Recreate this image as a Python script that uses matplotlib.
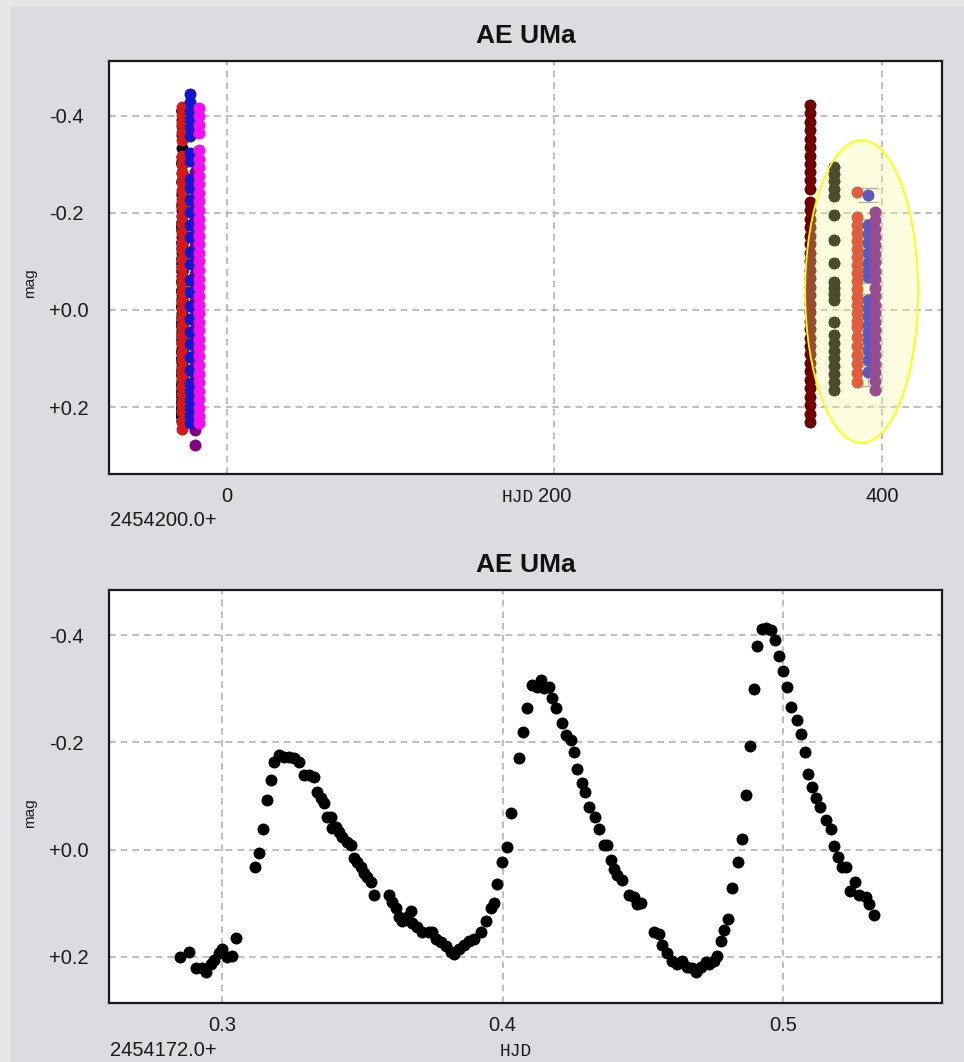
import numpy as np
import matplotlib
matplotlib.use("Agg")
import matplotlib.pyplot as plt
from matplotlib.patches import Ellipse, Rectangle

plt.rcParams['font.family'] = ['Liberation Sans', 'DejaVu Sans']

# --- light curve of one night, HJD - 2454172.0 and mag (relative) ---
night_hjd = [0.2850, 0.2882, 0.2907, 0.2929, 0.2943, 0.2961, 0.2971, 0.2989, 0.3000, 0.3018,
             0.3036, 0.3050, 0.3118, 0.3132, 0.3146, 0.3160, 0.3175, 0.3185, 0.3203, 0.3221,
             0.3239, 0.3257, 0.3275, 0.3292, 0.3310, 0.3328, 0.3339, 0.3353, 0.3364, 0.3374,
             0.3389, 0.3392, 0.3406, 0.3417, 0.3428, 0.3446, 0.3460, 0.3471, 0.3481, 0.3496,
             0.3506, 0.3517, 0.3531, 0.3542, 0.3595, 0.3606, 0.3620, 0.3631, 0.3642, 0.3660,
             0.3674, 0.3677, 0.3695, 0.3713, 0.3738, 0.3749, 0.3763, 0.3781, 0.3799, 0.3816,
             0.3827, 0.3845, 0.3863, 0.3881, 0.3898, 0.3922, 0.3941, 0.3959, 0.3970, 0.3980,
             0.3998, 0.4016, 0.4030, 0.4059, 0.4073, 0.4087, 0.4105, 0.4123, 0.4137, 0.4148,
             0.4166, 0.4176, 0.4191, 0.4212, 0.4226, 0.4244, 0.4255, 0.4266, 0.4283, 0.4294,
             0.4308, 0.4330, 0.4344, 0.4362, 0.4373, 0.4387, 0.4397, 0.4408, 0.4426, 0.4451,
             0.4469, 0.4479, 0.4494, 0.4540, 0.4558, 0.4569, 0.4586, 0.4604, 0.4622, 0.4640,
             0.4658, 0.4676, 0.4690, 0.4708, 0.4725, 0.4736, 0.4754, 0.4765, 0.4779, 0.4790,
             0.4804, 0.4818, 0.4840, 0.4854, 0.4868, 0.4882, 0.4897, 0.4907, 0.4925, 0.4939,
             0.4957, 0.4971, 0.4986, 0.5000, 0.5014, 0.5028, 0.5050, 0.5064, 0.5078, 0.5089,
             0.5103, 0.5118, 0.5132, 0.5153, 0.5171, 0.5182, 0.5196, 0.5210, 0.5225, 0.5239,
             0.5257, 0.5271, 0.5296, 0.5307, 0.5324]
night_mag = [0.201, 0.190, 0.220, 0.220, 0.229, 0.214, 0.205, 0.192, 0.186, 0.201,
             0.199, 0.164, 0.033, 0.006, -0.039, -0.093, -0.130, -0.164, -0.177, -0.173,
             -0.173, -0.171, -0.164, -0.140, -0.140, -0.136, -0.108, -0.097, -0.087, -0.060,
             -0.061, -0.041, -0.043, -0.032, -0.024, -0.015, -0.009, 0.015, 0.024, 0.033,
             0.043, 0.052, 0.061, 0.084, 0.084, 0.097, 0.108, 0.125, 0.134, 0.125,
             0.115, 0.136, 0.145, 0.153, 0.154, 0.153, 0.167, 0.173, 0.180, 0.190,
             0.195, 0.186, 0.177, 0.171, 0.167, 0.154, 0.134, 0.108, 0.099, 0.065,
             0.024, -0.004, -0.069, -0.171, -0.220, -0.264, -0.307, -0.303, -0.316, -0.301,
             -0.303, -0.283, -0.264, -0.236, -0.214, -0.205, -0.182, -0.151, -0.125, -0.108,
             -0.080, -0.060, -0.039, -0.009, -0.009, 0.019, 0.037, 0.047, 0.056, 0.084,
             0.089, 0.102, 0.099, 0.154, 0.158, 0.177, 0.192, 0.208, 0.214, 0.208,
             0.218, 0.220, 0.229, 0.218, 0.210, 0.214, 0.208, 0.199, 0.171, 0.149,
             0.130, 0.071, 0.024, -0.020, -0.102, -0.193, -0.300, -0.380, -0.411, -0.413,
             -0.409, -0.391, -0.361, -0.333, -0.303, -0.266, -0.242, -0.216, -0.182, -0.141,
             -0.117, -0.097, -0.080, -0.056, -0.039, -0.006, 0.013, 0.032, 0.032, 0.078,
             0.060, 0.084, 0.089, 0.102, 0.121]

# --- other nights/observers, HJD - 2454200.0 and mag ---
red_a_hjd = -27.4
red_a_mag = [-0.418, -0.402, -0.386, -0.367, -0.351, -0.318, -0.300, -0.283, -0.264, -0.247,
             -0.229, -0.212, -0.194, -0.177, -0.158, -0.141, -0.124, -0.105, -0.089, -0.071,
             -0.054, -0.036, -0.019, -0.001, 0.017, 0.034, 0.051, 0.069, 0.086, 0.104,
             0.121, 0.139, 0.156, 0.174, 0.191, 0.209, 0.228, 0.245]
purple_a_hjd = -19.5
purple_a_mag = [-0.305, -0.285, -0.266, -0.247, -0.228, -0.209, -0.190, -0.170, -0.151, -0.132,
                -0.113, -0.094, -0.075, -0.056, -0.037, -0.018, 0.001, 0.020, 0.039, 0.058,
                0.077, 0.096, 0.115, 0.134, 0.153, 0.172, 0.191, 0.210, 0.229, 0.247, 0.278]
blue_a_hjd = -22.6
blue_a_mag = [-0.446, -0.429, -0.411, -0.394, -0.376, -0.358, -0.323, -0.306, -0.270, -0.252,
              -0.226, -0.201, -0.176, -0.150, -0.119, -0.094, -0.061, -0.036, -0.008, 0.018,
              0.046, 0.071, 0.097, 0.124, 0.150, 0.168, 0.186, 0.203, 0.219, 0.233]
magenta_a_hjd = -16.8
magenta_a_mag = [-0.417, -0.399, -0.382, -0.364, -0.330, -0.312, -0.295, -0.276, -0.259, -0.241,
                 -0.224, -0.206, -0.188, -0.171, -0.153, -0.135, -0.117, -0.100, -0.082, -0.064,
                 -0.047, -0.029, -0.011, 0.007, 0.024, 0.042, 0.060, 0.077, 0.095, 0.113,
                 0.131, 0.148, 0.166, 0.184, 0.201, 0.218, 0.233]

maroon_b_hjd = 356.1
maroon_b_mag = [-0.423, -0.405, -0.388, -0.370, -0.353, -0.336, -0.318, -0.301, -0.284, -0.267,
                -0.250, -0.222, -0.205, -0.187, -0.170, -0.152, -0.135, -0.118, -0.100, -0.083,
                -0.066, -0.048, -0.031, -0.013, 0.004, 0.022, 0.039, 0.057, 0.074, 0.091,
                0.109, 0.126, 0.144, 0.161, 0.179, 0.196, 0.214, 0.231]
black_b_hjd = 370.8
black_b_mag = [-0.295, -0.281, -0.266, -0.250, -0.234, -0.196, -0.144, -0.097, -0.058, -0.045,
               -0.033, -0.021, 0.025, 0.052, 0.068, 0.085, 0.100, 0.116, 0.132, 0.148, 0.165]
red_b_hjd = 384.8
red_b_mag = [-0.243, -0.192, -0.175, -0.159, -0.142, -0.126, -0.109, -0.093, -0.076, -0.060,
             -0.043, -0.027, -0.010, 0.006, 0.022, 0.035, 0.056, 0.074, 0.092, 0.111, 0.129, 0.148]
blue_b_hjd = 391.5
blue_b_mag = [-0.237, -0.175, -0.157, -0.138, -0.118, -0.097, -0.082, -0.068, -0.021, -0.004,
              0.013, 0.030, 0.047, 0.064, 0.082, 0.103, 0.128]
blue_b_err = [0.014, 0.012, 0.012, 0.012, 0.013, 0.012, 0.013, 0.012, 0.012, 0.012,
              0.013, 0.012, 0.012, 0.013, 0.012, 0.012, 0.028]
purple_b_hjd = 395.8
purple_b_mag = [-0.202, -0.185, -0.167, -0.150, -0.133, -0.115, -0.098, -0.080, -0.063, -0.046,
                -0.028, -0.011, 0.006, 0.024, 0.041, 0.058, 0.076, 0.093, 0.111, 0.128, 0.146, 0.165]

offset_top = 2454200.0
offset_night = 2454172.0

BG = '#dcdce0'
GRID = '#b4b4b4'
MS = 8.6

fig = plt.figure(figsize=(9.64, 10.62), dpi=100, facecolor=BG)
# lighter window edge on the left and top
fig.patches.append(Rectangle((0, 0), 10 / 964, 1, transform=fig.transFigure, color='#e6e6e6', zorder=0))
fig.patches.append(Rectangle((0, 1 - 5 / 1062), 1, 5 / 1062, transform=fig.transFigure, color='#e6e6e6', zorder=0))

ax1 = fig.add_axes([109 / 964, 1 - 474 / 1062, 833 / 964, 413 / 1062])
ax2 = fig.add_axes([109 / 964, 1 - 1003 / 1062, 833 / 964, 413 / 1062])


def style(ax, xticks, xlabels, yticks, ylabels):
    ax.set_facecolor('white')
    ax.set_xticks(xticks)
    ax.set_xticklabels(xlabels)
    ax.set_yticks(yticks)
    ax.set_yticklabels(ylabels)
    ax.tick_params(length=0, labelsize=14.5, labelcolor='#1a1a1a')
    ax.tick_params(axis='x', pad=9.5)
    ax.tick_params(axis='y', pad=43)
    for lab in ax.get_yticklabels():
        lab.set_ha('left')
    ax.grid(True, color=GRID, linestyle=(0, (4, 3)), linewidth=1.2)
    ax.set_axisbelow(True)
    for s in ax.spines.values():
        s.set_color('#1a1a1a')
        s.set_linewidth(1.6)
    ax.set_title('AE UMa', fontsize=19, fontweight='bold', pad=13.2, color='#111111')


yt = [-0.4, -0.2, 0.0, 0.2]
yl = ['-0.4', '-0.2', '+0.0', '+0.2']

# top: all data
def column(ax, hjd, mags, color, z):
    ax.plot(np.full(len(mags), hjd), mags, 'o', color=color, ms=MS, mew=0, zorder=z)

top_night_x = np.array(night_hjd) + (offset_night - offset_top)
ax1.plot(top_night_x, night_mag, 'o', color='black', ms=MS, mew=0, zorder=2)
column(ax1, red_a_hjd, red_a_mag, '#d81818', 3)
column(ax1, purple_a_hjd, purple_a_mag, '#800080', 4)
column(ax1, blue_a_hjd, blue_a_mag, '#1414d2', 5)
column(ax1, magenta_a_hjd, magenta_a_mag, '#f010f0', 6)

column(ax1, maroon_b_hjd, maroon_b_mag, '#700000', 3)
column(ax1, black_b_hjd, black_b_mag, 'black', 3)
column(ax1, red_b_hjd, red_b_mag, '#d81818', 3)
ax1.errorbar(np.full(len(blue_b_mag), blue_b_hjd), blue_b_mag, yerr=blue_b_err, fmt='none',
             ecolor='#9a9a9a', elinewidth=1, capsize=7, zorder=2.5)
column(ax1, blue_b_hjd, blue_b_mag, '#1414d2', 4)
column(ax1, purple_b_hjd, purple_b_mag, '#700090', 5)

ell = Ellipse((387.5, -0.038), 68.9, 0.624, facecolor=(250 / 255, 250 / 255, 150 / 255, 0.3),
              edgecolor='#ffff00', linewidth=1.3, zorder=10)
ax1.add_patch(ell)

ax1.set_xlim(-72.0, 436.6)
ax1.set_ylim(0.338, -0.513)
style(ax1, [0, 200, 400], ['0', '200', '400'], yt, yl)

# bottom: single night
ax2.plot(night_hjd, night_mag, 'o', color='black', ms=MS, mew=0, zorder=3)
ax2.set_xlim(0.2597, 0.5567)
ax2.set_ylim(0.286, -0.484)
style(ax2, [0.3, 0.4, 0.5], ['0.3', '0.4', '0.5'], yt, yl)

# axis captions
for yc in (283, 813):
    fig.text(30 / 964, 1 - yc / 1062, 'mag', rotation=90, ha='center', va='center',
             fontsize=11, color='#1a1a1a')
fig.text(110 / 964, 1 - 521 / 1062, '2454200.0+', ha='left', va='center', fontsize=14.5, color='#1a1a1a')
fig.text(518 / 964, 1 - 497 / 1062, 'HJD', ha='center', va='center', fontsize=13,
         family=['Liberation Mono', 'DejaVu Sans Mono'], color='#1a1a1a')
fig.text(110 / 964, 1 - 1050 / 1062, '2454172.0+', ha='left', va='center', fontsize=14.5, color='#1a1a1a')
fig.text(516 / 964, 1 - 1052 / 1062, 'HJD', ha='center', va='center', fontsize=13,
         family=['Liberation Mono', 'DejaVu Sans Mono'], color='#1a1a1a')

fig.savefig('out.png', dpi=100, facecolor=BG)
